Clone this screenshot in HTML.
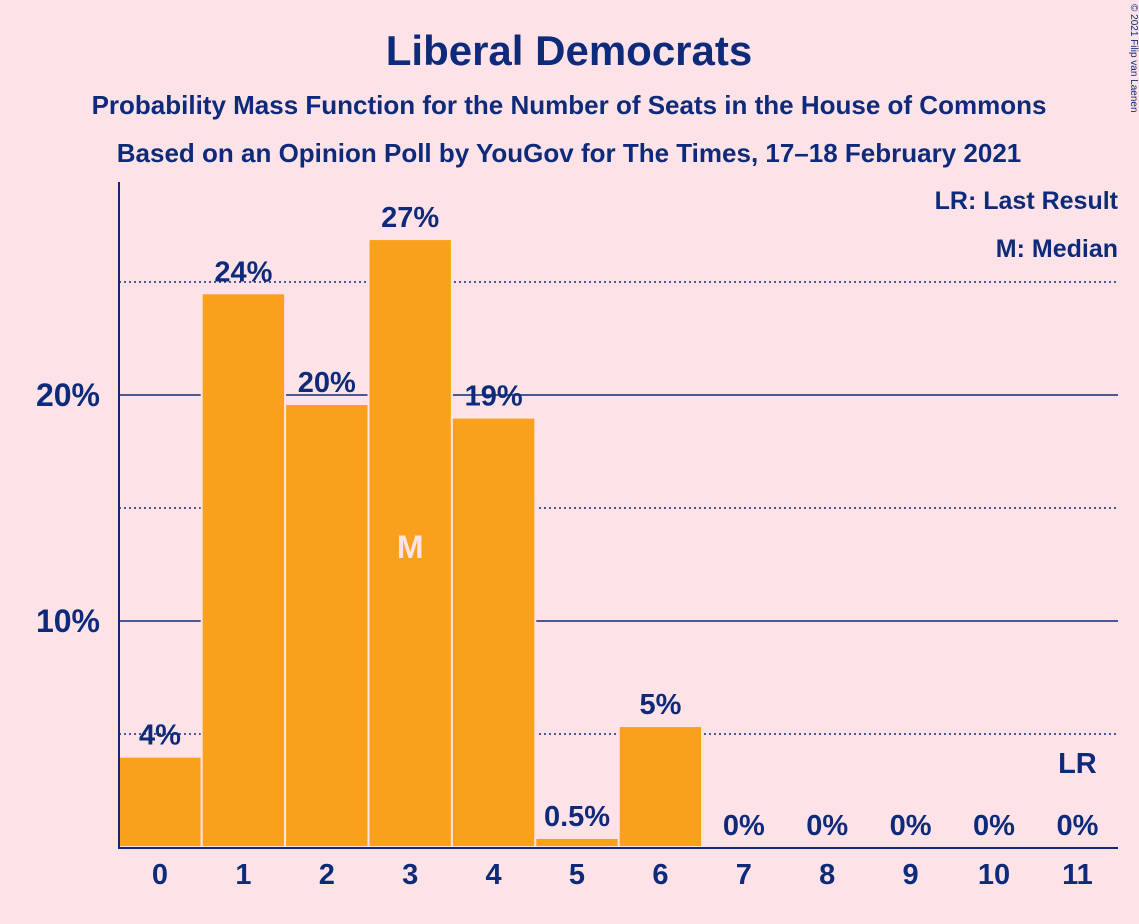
<!DOCTYPE html>
<html><head><meta charset="utf-8"><style>
body{margin:0;background:#fde3e7;}
svg{display:block;font-family:"Liberation Sans",sans-serif;font-weight:bold;}
</style></head><body>
<svg id="c" width="1139" height="924">
<rect width="1139" height="924" fill="#fde3e7"/>
<text x="569" y="65" text-anchor="middle" font-size="42" fill="#0e2a7a">Liberal Democrats</text>
<text x="569" y="114" text-anchor="middle" font-size="26" fill="#0e2a7a">Probability Mass Function for the Number of Seats in the House of Commons</text>
<text x="569" y="162" text-anchor="middle" font-size="26" fill="#0e2a7a">Based on an Opinion Poll by YouGov for The Times, 17–18 February 2021</text>
<text x="1131" y="4" font-size="10" font-weight="normal" fill="#0e2a7a" transform="rotate(90 1131 4)">© 2021 Filip van Laenen</text>
<text x="1118" y="209" text-anchor="end" font-size="25" fill="#0e2a7a">LR: Last Result</text>
<text x="1118" y="257" text-anchor="end" font-size="25" fill="#0e2a7a">M: Median</text>
<g id="grid"></g><g id="bars"></g><g id="labels"></g>
<line x1="119" y1="182" x2="119" y2="848" stroke="#0e2a7a" stroke-width="2"/>
<line x1="118" y1="848" x2="1118" y2="848" stroke="#0e2a7a" stroke-width="2"/>
</svg>
<script>
const categories=["0","1","2","3","4","5","6","7","8","9","10","11"];
const values=[4.0,24.5,19.6,26.9,19.0,0.4,5.35,0,0,0,0,0];
const valueLabels=["4%","24%","20%","27%","19%","0.5%","5%","0%","0%","0%","0%","0%"];
const yTicks=[10,20];
const dottedTicks=[5,15,25];
const medianIndex=3, lastResultIndex=11;
const NS="http://www.w3.org/2000/svg";
const y=v=>847-22.6*v;
const xc=i=>160+83.4*i;
function mk(t,a,p){const e=document.createElementNS(NS,t);for(const k in a)e.setAttribute(k,a[k]);p.appendChild(e);return e;}
const g=document.getElementById('grid'),b=document.getElementById('bars'),l=document.getElementById('labels');
dottedTicks.forEach(t=>{const e=mk('line',{x1:119,x2:1118,y1:y(t),y2:y(t),stroke:'#0e2a7a','stroke-width':1.5,'stroke-dasharray':'2,3'},g);

});
yTicks.forEach(t=>{const e=mk('line',{x1:119,x2:1118,y1:y(t),y2:y(t),stroke:'#0e2a7a','stroke-width':1.5},g);


const tx=mk('text',{x:100,y:y(t)+11,'text-anchor':'end','font-size':32,fill:'#0e2a7a'},g);tx.textContent=t+'%';

});
categories.forEach((c,i)=>{
 if(values[i]>0){const r=mk('rect',{x:xc(i)-41.7,y:y(values[i]),width:83.4,height:847-y(values[i]),fill:'#f9a11d',stroke:'#fde3e7','stroke-width':2},b);
 
 }
 const v=mk('text',{x:xc(i),y:Math.min(y(values[i]),847)-12,'text-anchor':'middle','font-size':29,fill:'#0e2a7a'},l);v.textContent=valueLabels[i];
 
 
 const t=mk('text',{x:xc(i),y:884,'text-anchor':'middle','font-size':29,fill:'#0e2a7a'},l);t.textContent=c;
 
 
});
const m=mk('text',{x:xc(medianIndex),y:558,'text-anchor':'middle','font-size':32,fill:'#fde3e7'},l);m.textContent='M';


const lr=mk('text',{x:xc(lastResultIndex),y:773,'text-anchor':'middle','font-size':29,fill:'#0e2a7a'},l);lr.textContent='LR';


</script>
</body></html>
